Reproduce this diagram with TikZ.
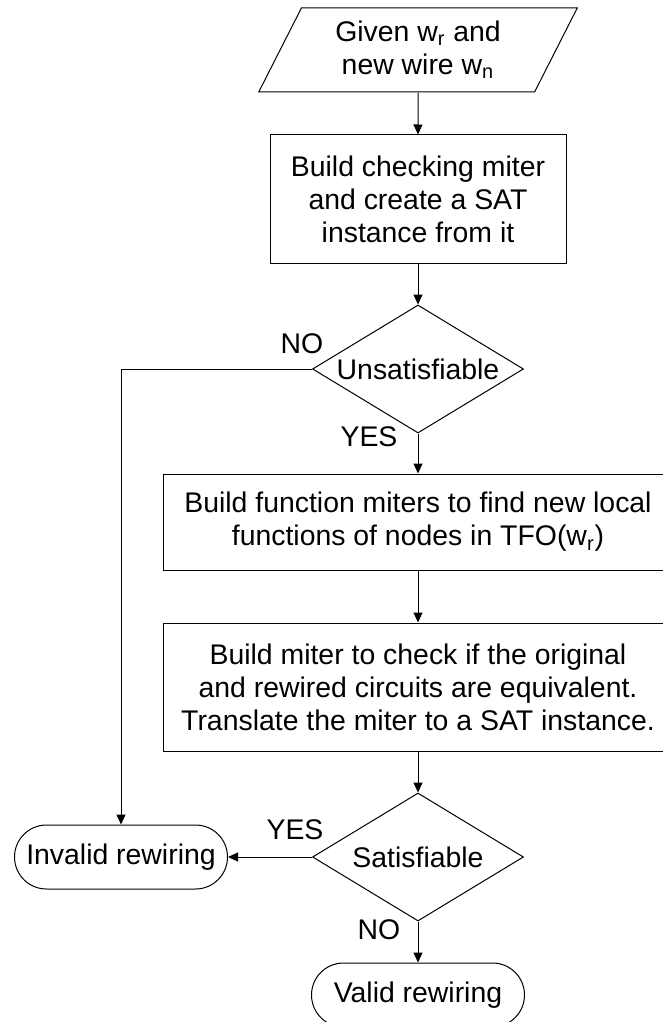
\documentclass[tikz,border=0pt]{standalone}
\usepackage{fontspec}
\setmainfont{Liberation Sans}
\usetikzlibrary{shapes.geometric,arrows.meta}
\begin{document}
\begin{tikzpicture}[x=0.5pt,y=-0.5pt,
  font=\fontsize{14.2}{16.5}\selectfont,
  every node/.style={align=center},
  io/.style={draw,line width=0.5pt,trapezium,trapezium stretches=true,
    trapezium left angle=62.4,trapezium right angle=117.6,
    minimum width=159.5pt,minimum height=42pt,inner sep=0pt},
  proc/.style={draw,line width=0.5pt,rectangle,inner sep=0pt},
  test/.style={draw,line width=0.5pt,diamond,aspect=1.65,inner sep=0pt,
    minimum width=105.5pt,minimum height=64pt},
  term/.style={draw,line width=0.5pt,rectangle,rounded corners=16pt,
    minimum width=106.5pt,minimum height=32pt,inner sep=0pt},
  lbl/.style={inner sep=0pt},
  arr/.style={line width=0.5pt,-{Triangle[length=5pt,width=4.5pt]}}]
\useasboundingbox (0,0) rectangle (663,1022);
\clip (0,0) rectangle (663,1022);

\node[io] (in) at (418,50) {Given w\textsubscript{r} and\\new wire w\textsubscript{n}};
\node[proc,minimum width=148pt,minimum height=64pt] (b1) at (418,199)
  {Build checking miter\\and create a SAT\\instance from it};
\node[test] (d1) at (418,369) {Unsatisfiable};
\node[proc,minimum width=255pt,minimum height=48pt] (b2) at (418,522)
  {Build function miters to find new local\\functions of nodes in TFO(w\textsubscript{r})};
\node[proc,minimum width=255pt,minimum height=64pt] (b3) at (418,687)
  {Build miter to check if the original\\and rewired circuits are equivalent.\\Translate the miter to a SAT instance.};
\node[test] (d2) at (418,857) {Satisfiable};
\node[term] (inv) at (121,857) {Invalid rewiring};
\node[term] (val) at (418,995) {Valid rewiring};

\node[lbl] at (302,344) {NO};
\node[lbl] at (369,437) {YES};
\node[lbl] at (295,830) {YES};
\node[lbl] at (379,930) {NO};

\draw[arr] (in) -- (b1);
\draw[arr] (b1) -- (d1);
\draw[arr] (d1.west) -| (inv.north);
\draw[arr] (d1) -- (b2);
\draw[arr] (b2) -- (b3);
\draw[arr] (b3) -- (d2);
\draw[arr] (d2) -- (inv);
\draw[arr] (d2) -- (val);
\end{tikzpicture}
\end{document}
